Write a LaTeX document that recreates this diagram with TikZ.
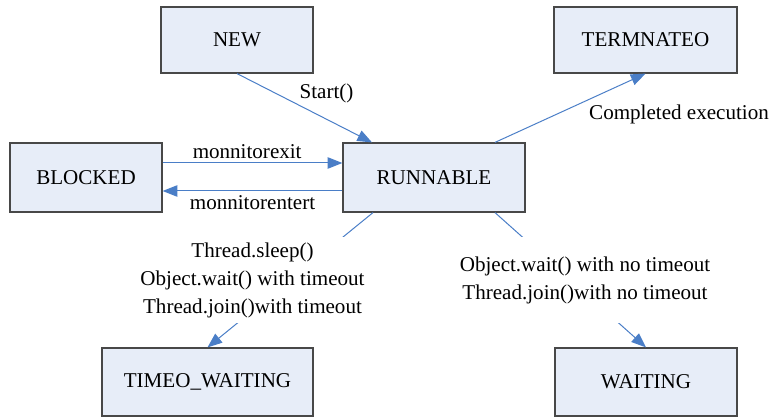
\documentclass[tikz,border=0pt]{standalone}
\usepackage{fontspec}
\setmainfont{Liberation Serif}
\usetikzlibrary{arrows.meta,calc}
\definecolor{boxfill}{RGB}{231,237,248}
\definecolor{boxline}{RGB}{72,72,72}
\definecolor{arrowblue}{RGB}{74,126,199}
\begin{document}
\begin{tikzpicture}[x=0.75pt,y=-0.75pt,
        font=\fontsize{15.8}{21}\selectfont,
        state/.style={draw=boxline,fill=boxfill,line width=0.9pt,inner sep=0pt},
        trans/.style={draw=arrowblue,line width=0.75pt,-{Triangle[length=11pt,width=8.5pt]}},
        lbl/.style={inner sep=1pt},
        biglbl/.style={fill=white,align=center,inner sep=2pt,minimum height=64pt}]
        \useasboundingbox (0,0) rectangle (772,417);
        % states
        \node[state,minimum width=114pt,minimum height=49.5pt] (new) at (237,40) {NEW};
        \node[state,minimum width=137.25pt,minimum height=49.5pt] (term) at (645.5,40) {TERMNATEO};
        \node[state,minimum width=136.5pt,minimum height=51.75pt] (run) at (434,177.5) {RUNNABLE};
        \node[state,minimum width=114pt,minimum height=51.75pt] (blocked) at (86,177.5) {BLOCKED};
        \node[state,minimum width=158.25pt,minimum height=51pt] (timed) at (207.5,382) {TIMEO\_WAITING};
        \node[state,minimum width=136.5pt,minimum height=51pt] (wait) at (646,382) {WAITING};
        % transitions
        \draw[trans] (new.south) -- ($(run.north)+(-62,0)$) node[lbl,pos=0.45,anchor=south west] {Start()};
        \draw[trans] ($(run.north)+(61,0)$) -- (term.south);
        \node[lbl] (done) at (679,114) {Completed execution};
        \draw[trans] ($(blocked.east)+(0,-14.5)$) -- ($(run.west)+(0,-14.5)$) node[lbl,midway,above=2pt,xshift=-4pt] {monnitorexit};
        \draw[trans] ($(run.west)+(0,13.5)$) -- ($(blocked.east)+(0,13.5)$) node[lbl,midway,below=2pt] {monnitorentert};
        \draw[trans] ($(run.south)+(-61,0)$) -- (timed.north);
        \draw[trans] ($(run.south)+(61,0)$) -- (wait.north);
        \node[biglbl] (timedlbl) at (252.5,280) {Thread.sleep()\\Object.wait() with timeout\\Thread.join()with timeout};
        \node[biglbl] (waitlbl) at (585,280) {Object.wait() with no timeout\\Thread.join()with no timeout};
    \end{tikzpicture}
\end{document}
